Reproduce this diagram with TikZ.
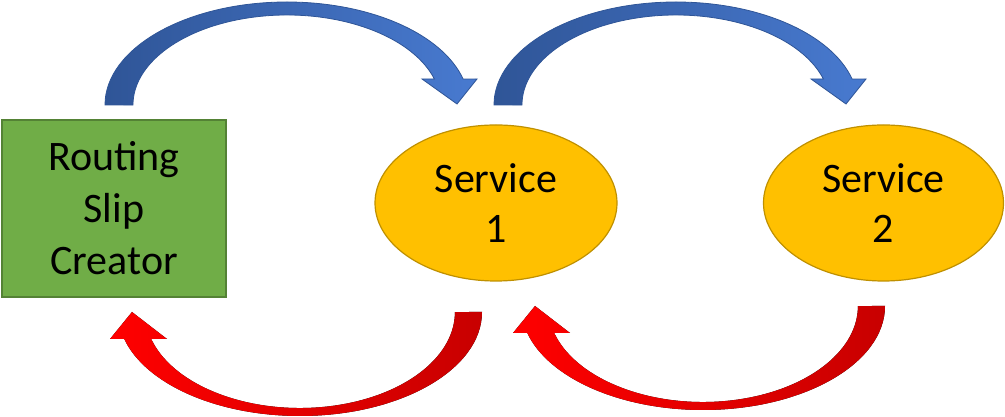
\documentclass[tikz,border=0pt]{standalone}
\usepackage{fontspec}
\setmainfont{Carlito}
\usetikzlibrary{shapes.geometric}
\definecolor{slipgreen}{RGB}{112,173,71}
\definecolor{slipedge}{RGB}{84,130,53}
\definecolor{servgold}{RGB}{255,192,0}
\definecolor{servedge}{RGB}{191,144,0}
\definecolor{bluedark}{RGB}{47,85,151}
\definecolor{bluelight}{RGB}{72,122,208}
\definecolor{redlight}{RGB}{255,0,0}
\definecolor{reddark}{RGB}{200,0,0}

\begin{document}
\begin{tikzpicture}[x=1pt,y=1pt,
  slipbox/.style={draw=slipedge,line width=1.2pt,fill=slipgreen,minimum width=224,minimum height=177,inner sep=0,align=center,font=\fontsize{42}{52}\selectfont},
  service/.style={ellipse,draw=servedge,line width=1.2pt,fill=servgold,inner sep=0,align=center,font=\fontsize{42}{50}\selectfont},
  bluearr/.style={left color=bluedark,right color=bluelight,draw=bluedark,line width=0.8pt},
  redarr/.style={left color=redlight,middle color=redlight,right color=reddark}]
\useasboundingbox (0,0) rectangle (1005,417);

\node[slipbox] (slip) at (114,208.5) {Routing\\Slip\\Creator};
\node[service,minimum width=242,minimum height=156] (serv1) at (496,214) {Service\\1};
\node[service,minimum width=240,minimum height=156] (serv2) at (883.5,214) {Service\\2};

\draw[bluearr] (105,312) arc[start angle=180,end angle=14.6,x radius=182,y radius=103] -- (477,338) -- (457,313) -- (422,338) -- (434.4,338) arc[start angle=16.8,end angle=180,x radius=154,y radius=90] -- cycle;
\draw[bluearr,shift={(389,0)}] (105,312) arc[start angle=180,end angle=14.6,x radius=182,y radius=103] -- (477,338) -- (457,313) -- (422,338) -- (434.4,338) arc[start angle=16.8,end angle=180,x radius=154,y radius=90] -- cycle;

\fill[redarr] (482,105) arc[start angle=0,end angle=-164.95,x radius=182,y radius=104] -- (110,78) -- (132,105) -- (167,78) -- (151.2,78) arc[start angle=-163.67,end angle=0,x radius=155,y radius=96] -- cycle;
\fill[redarr,shift={(403,6)}] (482,105) arc[start angle=0,end angle=-164.95,x radius=182,y radius=104] -- (110,78) -- (132,105) -- (167,78) -- (151.2,78) arc[start angle=-163.67,end angle=0,x radius=155,y radius=96] -- cycle;
\end{tikzpicture}
\end{document}
